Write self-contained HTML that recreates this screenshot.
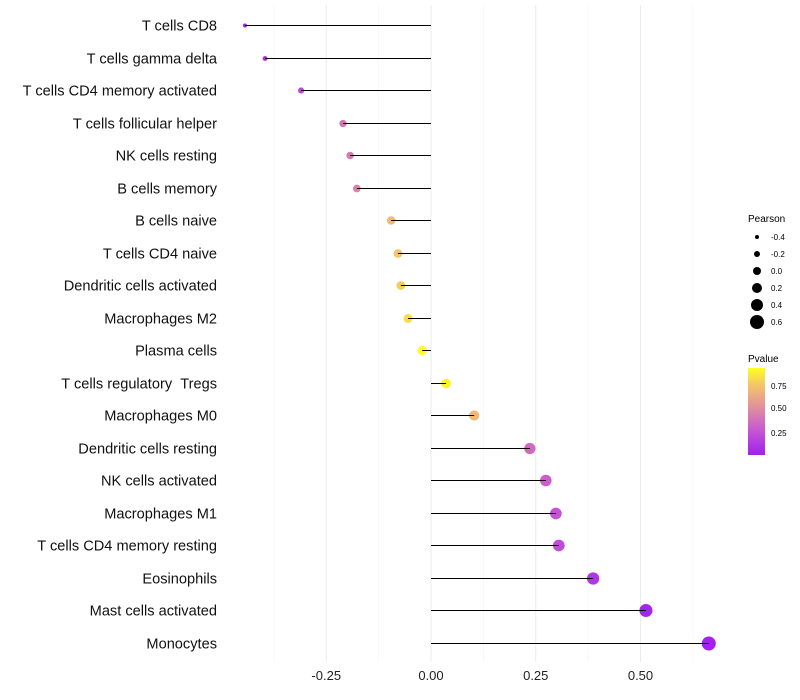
<!DOCTYPE html>
<html><head><meta charset="utf-8"><style>
body{margin:0;background:#fff}
svg{display:block;font-family:"Liberation Sans",sans-serif}
</style></head><body>
<svg id="chart" width="800" height="700">
<defs><linearGradient id="pg" x1="0" y1="1" x2="0" y2="0">
<stop offset="0" stop-color="#a020f0"/><stop offset="0.3" stop-color="#c95ad0"/><stop offset="0.55" stop-color="#e0909c"/><stop offset="0.8" stop-color="#f3c46a"/><stop offset="1" stop-color="#ffff20"/></linearGradient></defs>
<g id="grid"></g>
<g id="marks"></g>
<g id="labels"></g>
<g id="xt"></g>
<g id="sizeleg">
<text x="748" y="222" font-size="10" fill="#000">Pearson</text>
</g>
<g>
<text x="748" y="362" font-size="10" fill="#000">Pvalue</text>
<rect x="748" y="368" width="17" height="87" fill="url(#pg)"/>
<text x="771" y="389" font-size="8">0.75</text>
<text x="771" y="411" font-size="8">0.50</text>
<text x="771" y="436" font-size="8">0.25</text>
</g>
</svg>
<script>
const cells=["T cells CD8","T cells gamma delta","T cells CD4 memory activated","T cells follicular helper","NK cells resting","B cells memory","B cells naive","T cells CD4 naive","Dendritic cells activated","Macrophages M2","Plasma cells","T cells regulatory \u00a0Tregs","Macrophages M0","Dendritic cells resting","NK cells activated","Macrophages M1","T cells CD4 memory resting","Eosinophils","Mast cells activated","Monocytes"];
const pearson=[-0.444,-0.396,-0.31,-0.21,-0.193,-0.177,-0.095,-0.079,-0.072,-0.055,-0.021,0.036,0.103,0.236,0.274,0.298,0.305,0.387,0.513,0.663];
const pvalue=[0.01,0.05,0.2,0.4,0.42,0.45,0.7,0.76,0.78,0.83,0.95,0.9,0.7,0.35,0.3,0.25,0.22,0.1,0.03,0.005];
const xTicks=[-0.25,0,0.25,0.5];
const xTickLabels=["-0.25","0.00","0.25","0.50"];
const sizeLegend=[-0.4,-0.2,0.0,0.2,0.4,0.6];
const NS="http://www.w3.org/2000/svg";
const x=v=>431+v*419;
const y=i=>Math.round(25+i*32.5)+0.5;
const r=v=>Math.sqrt(Math.max(3,22+40.6*v));
const stops=[[0,[160,32,240]],[0.3,[201,90,208]],[0.55,[224,144,156]],[0.8,[243,196,106]],[1,[255,255,32]]];
function col(p){const t=Math.min(1,p/0.94);for(let i=1;i<stops.length;i++){if(t<=stops[i][0]){const a=stops[i-1],b=stops[i],f=(t-a[0])/(b[0]-a[0]);return "rgb("+a[1].map((c,k)=>Math.round(c+(b[1][k]-c)*f)).join(",")+")";}}return "rgb(255,255,32)";}
function mk(tag,attrs,parent){const e=document.createElementNS(NS,tag);for(const k in attrs)e.setAttribute(k,attrs[k]);parent.appendChild(e);return e;}
const grid=document.getElementById('grid'),marks=document.getElementById('marks'),labels=document.getElementById('labels'),xt=document.getElementById('xt');
[-0.375,-0.125,0.125,0.375,0.625].forEach(v=>{const l=mk('line',{x1:x(v),x2:x(v),y1:5,y2:662,stroke:'#f4f4f4','stroke-width':0.6},grid);

});
xTicks.forEach((v,i)=>{const l=mk('line',{x1:x(v),x2:x(v),y1:5,y2:662,stroke:'#ebebeb','stroke-width':1},grid);


const t=mk('text',{x:x(v),y:680,'font-size':13,'text-anchor':'middle',fill:'#222'},xt);t.textContent=xTickLabels[i];

});
cells.forEach((c,i)=>{
const d=mk('circle',{cx:x(pearson[i]),cy:y(i),r:r(pearson[i]),fill:col(pvalue[i])},marks);


const ln=mk('line',{x1:x(0),x2:x(pearson[i]),y1:y(i),y2:y(i),stroke:'#000','stroke-width':1},marks);


const t=mk('text',{x:217,y:y(i)+5,'font-size':14.6,'text-anchor':'end',fill:'#111'},labels);t.textContent=c;

});
const sl=document.getElementById('sizeleg');
sizeLegend.forEach((v,i)=>{const cy=237+i*17;const c=mk('circle',{cx:757,cy:cy,r:[2,3,4,5,6,7][i],fill:'#000'},sl);


const t=mk('text',{x:771,y:cy+3,'font-size':8},sl);t.textContent=v.toFixed(1);

});
</script>
</body></html>
